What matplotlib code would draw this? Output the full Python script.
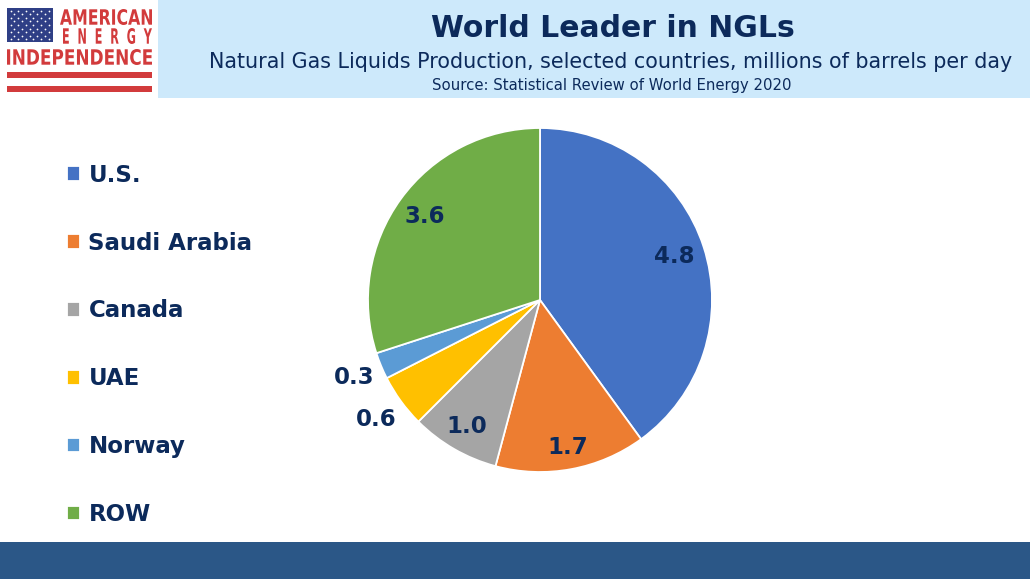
import matplotlib.pyplot as plt
import numpy as np
from matplotlib.patches import Rectangle, PathPatch
from matplotlib.textpath import TextPath
from matplotlib.font_manager import FontProperties
from matplotlib.transforms import Affine2D

plt.rcParams['font.family'] = ['DejaVu Sans']

# data
countries = ['U.S.', 'Saudi Arabia', 'Canada', 'UAE', 'Norway', 'ROW']
production = [4.8, 1.7, 1.0, 0.6, 0.3, 3.6]
colors = ['#4472C4', '#ED7D31', '#A5A5A5', '#FFC000', '#5B9BD5', '#70AD47']
label_radius = [0.82, 0.87, 0.85, 1.18, 1.17, 0.83]

title = 'World Leader in NGLs'
subtitle = 'Natural Gas Liquids Production, selected countries, millions of barrels per day'
source = 'Source: Statistical Review of World Energy 2020'

navy = '#0c2a5b'
logo_red = '#d23b3c'

W, H = 1030, 579
fig = plt.figure(figsize=(W / 100, H / 100), dpi=100)

# background layer in pixel coords (y down)
bg = fig.add_axes([0, 0, 1, 1])
bg.set_xlim(0, W)
bg.set_ylim(H, 0)
bg.axis('off')

bg.add_patch(Rectangle((158, 0), W - 158, 98, fc='#cde9fb', ec='none'))
bg.add_patch(Rectangle((0, 542), W, H - 542, fc='#2b5787', ec='none'))

bg.text(613, 37, title, ha='center', va='baseline', fontsize=21.5,
        fontweight='bold', color=navy)
bg.text(611, 68, subtitle, ha='center', va='baseline', fontsize=14.9, color=navy)
bg.text(612, 90, source, ha='center', va='baseline', fontsize=10.7, color=navy)


def fit_text(ax, s, x0, y0, x1, y1, color):
    tp = TextPath((0, 0), s, size=10,
                  prop=FontProperties(family='DejaVu Sans', weight='bold'))
    bb = tp.get_extents()
    tr = (Affine2D().translate(-bb.x0, -bb.y0)
          .scale((x1 - x0) / bb.width, -(y1 - y0) / bb.height)
          .translate(x0, y1))
    ax.add_patch(PathPatch(tr.transform_path(tp), fc=color, ec='none'))


# logo
bg.add_patch(Rectangle((7, 8), 46, 34, fc='#2f3f86', ec='none'))
sx, sy = [], []
for r in range(9):
    n = 6 if r % 2 == 0 else 5
    off = 0 if r % 2 == 0 else 3.8
    for c in range(n):
        sx.append(10.5 + off + c * 7.6)
        sy.append(10.5 + r * 3.6)
bg.scatter(sx, sy, s=1.6, c='white', linewidths=0)
fit_text(bg, 'AMERICAN', 60, 9, 152, 25, logo_red)
fit_text(bg, 'E  N  E  R  G  Y', 63, 28, 152, 44, logo_red)
fit_text(bg, 'INDEPENDENCE', 7, 49, 152, 65, logo_red)
bg.add_patch(Rectangle((7, 72), 145, 6, fc=logo_red, ec='none'))
bg.add_patch(Rectangle((7, 86), 145, 6, fc=logo_red, ec='none'))

# pie
cx, cy, rad = 540, 300, 172
ax = fig.add_axes([(cx - rad) / W, (H - cy - rad) / H, 2 * rad / W, 2 * rad / H])
wedges, _ = ax.pie(production, colors=colors, startangle=90, counterclock=False,
                   radius=1, wedgeprops=dict(edgecolor='white', linewidth=1.3))
ax.set_xlim(-1, 1)
ax.set_ylim(-1, 1)
ax.set_aspect('equal')
for w, v, lr in zip(wedges, production, label_radius):
    ang = np.radians((w.theta1 + w.theta2) / 2)
    ax.text(lr * np.cos(ang), lr * np.sin(ang), f'{v:.1f}', ha='center', va='center',
            fontsize=16.5, fontweight='bold', color=navy)

# legend
leg = fig.legend(wedges, countries, loc='upper left', bbox_to_anchor=(46 / W, 1 - 143 / H),
                 frameon=False, handlelength=0.6, handleheight=0.6, handletextpad=0.35,
                 labelspacing=1.96, prop=dict(size=16.5, weight='bold'))
for t in leg.get_texts():
    t.set_color(navy)

fig.savefig('out.png', dpi=100)
